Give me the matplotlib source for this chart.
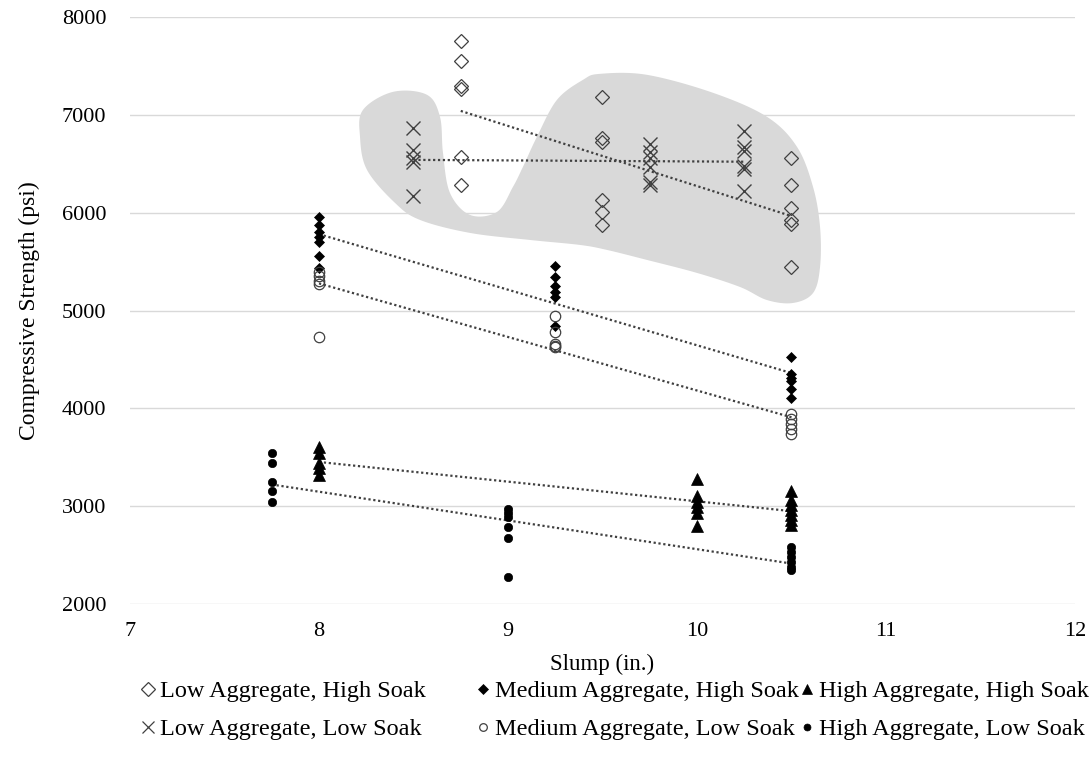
import numpy as np
import matplotlib
matplotlib.use("Agg")
import matplotlib.pyplot as plt
from matplotlib.lines import Line2D
from matplotlib.patches import Polygon

plt.rcParams['font.family'] = ['Liberation Serif', 'DejaVu Serif']

# ---------------- data ----------------
low_high_x = [8.75, 8.75, 8.75, 8.75, 8.75, 8.75,
              9.5, 9.5, 9.5, 9.5, 9.5, 9.5,
              10.5, 10.5, 10.5, 10.5, 10.5, 10.5]
low_high_y = [7750, 7550, 7290, 7260, 6570, 6280,
              7180, 6760, 6720, 6130, 6010, 5870,
              6560, 6280, 6045, 5925, 5885, 5440]

med_high_x = [8, 8, 8, 8, 8, 8, 8,
              9.25, 9.25, 9.25, 9.25, 9.25, 9.25,
              10.5, 10.5, 10.5, 10.5, 10.5, 10.5]
med_high_y = [5960, 5870, 5800, 5750, 5700, 5560, 5430,
              5450, 5340, 5250, 5190, 5140, 4840,
              4520, 4350, 4310, 4280, 4200, 4110]

high_high_x = [8, 8, 8, 8, 8,
               10, 10, 10, 10, 10, 10,
               10.5, 10.5, 10.5, 10.5, 10.5, 10.5, 10.5]
high_high_y = [3600, 3540, 3440, 3390, 3320,
               3280, 3100, 3040, 2990, 2930, 2800,
               3160, 3060, 3010, 2960, 2910, 2860, 2810]

low_low_x = [8.5, 8.5, 8.5, 8.5, 8.5,
             9.75, 9.75, 9.75, 9.75, 9.75, 9.75,
             10.25, 10.25, 10.25, 10.25, 10.25, 10.25]
low_low_y = [6870, 6640, 6560, 6520, 6170,
             6700, 6620, 6560, 6470, 6310, 6280,
             6830, 6670, 6630, 6480, 6450, 6220]

med_low_x = [8, 8, 8, 8, 8,
             9.25, 9.25, 9.25, 9.25, 9.25,
             10.5, 10.5, 10.5, 10.5, 10.5]
med_low_y = [5390, 5350, 5300, 5270, 4730,
             4940, 4780, 4660, 4640, 4630,
             3940, 3890, 3840, 3790, 3740]

high_low_x = [7.75, 7.75, 7.75, 7.75, 7.75,
              9, 9, 9, 9, 9, 9,
              10.5, 10.5, 10.5, 10.5, 10.5, 10.5]
high_low_y = [3540, 3440, 3250, 3160, 3040,
              2970, 2930, 2890, 2790, 2670, 2280,
              2580, 2530, 2480, 2430, 2380, 2350]

labels = ["Low Aggregate, High Soak", "Medium Aggregate, High Soak",
          "High Aggregate, High Soak", "Low Aggregate, Low Soak",
          "Medium Aggregate, Low Soak", "High Aggregate, Low Soak"]

x_ticks = [7, 8, 9, 10, 11, 12]
y_ticks = [2000, 3000, 4000, 5000, 6000, 7000, 8000]

# highlighted region outline (slump, psi)
highlight_outline = [
    (8.392, 7235), (8.571, 7205), (8.640, 6980), (8.656, 6611), (8.693, 6202),
    (8.799, 5977), (8.942, 6008), (9.026, 6263), (9.079, 6468), (9.153, 6775),
    (9.259, 7153), (9.397, 7358), (9.487, 7419), (9.735, 7409), (10.085, 7225),
    (10.370, 6980), (10.529, 6673), (10.614, 6263), (10.651, 5854), (10.651, 5445),
    (10.614, 5179), (10.508, 5077), (10.370, 5107), (10.228, 5240), (10.0, 5384),
    (9.735, 5517), (9.524, 5619), (9.381, 5670), (9.116, 5721), (8.799, 5793),
    (8.534, 5926), (8.402, 6100), (8.254, 6437), (8.217, 6775), (8.233, 7051)]

# ---------------- styles ----------------
DARK = '#404040'
styles = [
    dict(marker='D', ms=7.6, mfc='none', mec=DARK, mew=0.9),
    dict(marker='D', ms=5.2, mfc='black', mec='black', mew=0.5),
    dict(marker='^', ms=8.5, mfc='black', mec='black', mew=0.5),
    dict(marker='x', ms=10.5, mfc='none', mec=DARK, mew=1.0),
    dict(marker='o', ms=7.5, mfc='none', mec=DARK, mew=0.9),
    dict(marker='o', ms=6.0, mfc='black', mec='black', mew=0.5),
]
legend_styles = [
    dict(marker='D', ms=7.0, mfc='none', mec=DARK, mew=0.9),
    dict(marker='D', ms=4.6, mfc='black', mec='black', mew=0.5),
    dict(marker='^', ms=7.5, mfc='black', mec='black', mew=0.5),
    dict(marker='x', ms=8.0, mfc='none', mec=DARK, mew=0.9),
    dict(marker='o', ms=5.5, mfc='none', mec=DARK, mew=0.9),
    dict(marker='o', ms=5.0, mfc='black', mec='black', mew=0.5),
]

series = [(low_high_x, low_high_y), (med_high_x, med_high_y),
          (high_high_x, high_high_y), (low_low_x, low_low_y),
          (med_low_x, med_low_y), (high_low_x, high_low_y)]

W, H = 1091, 778
fig = plt.figure(figsize=(W / 100, H / 100), dpi=100)
ax = fig.add_axes([130 / W, 1 - 604 / H, (1075 - 130) / W, (604 - 17) / H])
ax.set_xlim(7, 12)
ax.set_ylim(2000, 8000)
ax.set_xticks(x_ticks)
ax.set_yticks(y_ticks)
for s in ax.spines.values():
    s.set_visible(False)
ax.set_axisbelow(True)
ax.grid(axis='y', color='#d9d9d9', lw=1.0, zorder=0)
ax.tick_params(length=0, labelsize=16)
ax.tick_params(axis='y', pad=17)
ax.tick_params(axis='x', pad=13)


def catmull_rom_closed(pts, n=24):
    P = np.asarray(pts, dtype=float)
    N = len(P)
    t = np.linspace(0, 1, n, endpoint=False)[:, None]
    out = []
    for i in range(N):
        p0, p1, p2, p3 = P[i - 1], P[i], P[(i + 1) % N], P[(i + 2) % N]
        out.append(0.5 * (2 * p1 + (-p0 + p2) * t
                          + (2 * p0 - 5 * p1 + 4 * p2 - p3) * t ** 2
                          + (-p0 + 3 * p1 - 3 * p2 + p3) * t ** 3))
    return np.vstack(out)


blob = Polygon(catmull_rom_closed(highlight_outline), closed=True,
               facecolor='#d9d9d9', edgecolor='none', zorder=1)
ax.add_patch(blob)

for (xs, ys), st in zip(series, styles):
    xs = np.asarray(xs, float)
    ys = np.asarray(ys, float)
    m, b = np.polyfit(xs, ys, 1)
    xx = np.array([xs.min(), xs.max()])
    ax.plot(xx, m * xx + b, color=DARK, lw=1.6, ls=(0, (1, 1.2)), zorder=2)

for (xs, ys), st in zip(series, styles):
    ax.plot(xs, ys, ls='none', zorder=3, **st)

ax.set_xlabel('Slump (in.)', fontsize=16.5, labelpad=9)
ax.set_ylabel('Compressive Strength (psi)', fontsize=17, labelpad=16)

# legend: three columns placed individually
handles = [Line2D([], [], ls='none', **st) for st in legend_styles]
anchors = [(139, 'upper left'), (474, 'upper left'), (1089, 'upper right')]
for c in range(3):
    hs = [handles[c], handles[c + 3]]
    ls_ = [labels[c], labels[c + 3]]
    xa, loc = anchors[c]
    fig.legend(hs, ls_, loc=loc,
               bbox_to_anchor=(xa / W, 1 - 680 / H),
               bbox_transform=fig.transFigure, frameon=False,
               fontsize=17.5, handlelength=0.7, handletextpad=0.15,
               borderpad=0, borderaxespad=0, labelspacing=0.66)

fig.savefig('out.png', dpi=100)
